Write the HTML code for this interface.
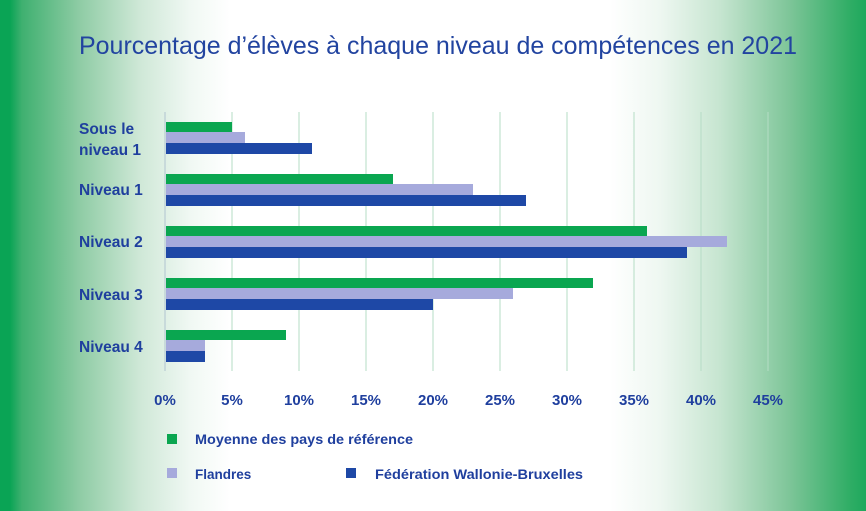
<!DOCTYPE html>
<html><head><meta charset="utf-8"><style>
html,body{margin:0;padding:0}
body{width:866px;height:511px;overflow:hidden;background:linear-gradient(to right,#0aa455 0px,#0aa455 10px,#3fb070 22px,#8fcca5 80px,#cfe8d7 140px,#f0f8f3 190px,#fff 230px,#fff 610px,#eef7f1 660px,#c6e5d0 720px,#7dc598 790px,#2fad65 850px,#1ea85c 866px);font-family:"Liberation Sans",sans-serif}
</style></head><body>
<svg width="866" height="511" xmlns="http://www.w3.org/2000/svg" style="position:absolute;left:0;top:0">
<text x="79" y="54" font-size="25" fill="#2244a0" font-family="Liberation Sans, sans-serif" textLength="718" lengthAdjust="spacingAndGlyphs">Pourcentage d’élèves à chaque niveau de compétences en 2021</text>
<g stroke="#b5dcc5" stroke-width="1">
<line x1="232" y1="112" x2="232" y2="371"/><line x1="299" y1="112" x2="299" y2="371"/><line x1="366" y1="112" x2="366" y2="371"/><line x1="433" y1="112" x2="433" y2="371"/><line x1="500" y1="112" x2="500" y2="371"/><line x1="567" y1="112" x2="567" y2="371"/><line x1="634" y1="112" x2="634" y2="371"/><line x1="701" y1="112" x2="701" y2="371"/><line x1="768" y1="112" x2="768" y2="371"/>
</g>
<line x1="165" y1="112" x2="165" y2="371" stroke="#b0c4d0" stroke-width="1"/>
<g>
<rect x="166" y="122" width="66" height="10" fill="#0aa650"/><rect x="166" y="132" width="79" height="11" fill="#a6aadc"/><rect x="166" y="143" width="146" height="11" fill="#1e48a6"/>
<rect x="166" y="174" width="227" height="10" fill="#0aa650"/><rect x="166" y="184" width="307" height="11" fill="#a6aadc"/><rect x="166" y="195" width="360" height="11" fill="#1e48a6"/>
<rect x="166" y="226" width="481" height="10" fill="#0aa650"/><rect x="166" y="236" width="561" height="11" fill="#a6aadc"/><rect x="166" y="247" width="521" height="11" fill="#1e48a6"/>
<rect x="166" y="278" width="427" height="10" fill="#0aa650"/><rect x="166" y="288" width="347" height="11" fill="#a6aadc"/><rect x="166" y="299" width="267" height="11" fill="#1e48a6"/>
<rect x="166" y="330" width="120" height="10" fill="#0aa650"/><rect x="166" y="340" width="39" height="11" fill="#a6aadc"/><rect x="166" y="351" width="39" height="11" fill="#1e48a6"/>
</g>
<g font-size="15.5" font-weight="bold" fill="#1f3f9e">
<text x="79" y="134">Sous le</text><text x="79" y="155">niveau 1</text>
<text x="79" y="195">Niveau 1</text><text x="79" y="247">Niveau 2</text><text x="79" y="300">Niveau 3</text><text x="79" y="352">Niveau 4</text>
</g>
<g font-size="15" font-weight="bold" fill="#1f3f9e" text-anchor="middle">
<text x="165" y="405">0%</text><text x="232" y="405">5%</text><text x="299" y="405">10%</text><text x="366" y="405">15%</text><text x="433" y="405">20%</text><text x="500" y="405">25%</text><text x="567" y="405">30%</text><text x="634" y="405">35%</text><text x="701" y="405">40%</text><text x="768" y="405">45%</text>
</g>
<rect x="167" y="434" width="10" height="10" fill="#0aa650"/>
<text x="195" y="444" font-size="13.5" font-weight="bold" fill="#1f3f9e" textLength="218" lengthAdjust="spacingAndGlyphs">Moyenne des pays de référence</text>
<rect x="167" y="468" width="10" height="10" fill="#a6aadc"/>
<text x="195" y="479" font-size="13.5" font-weight="bold" fill="#1f3f9e">Flandres</text>
<rect x="346" y="468" width="10" height="10" fill="#1e48a6"/>
<text x="375" y="479" font-size="13.5" font-weight="bold" fill="#1f3f9e" textLength="208" lengthAdjust="spacingAndGlyphs">Fédération Wallonie-Bruxelles</text>
</svg>
</body></html>
